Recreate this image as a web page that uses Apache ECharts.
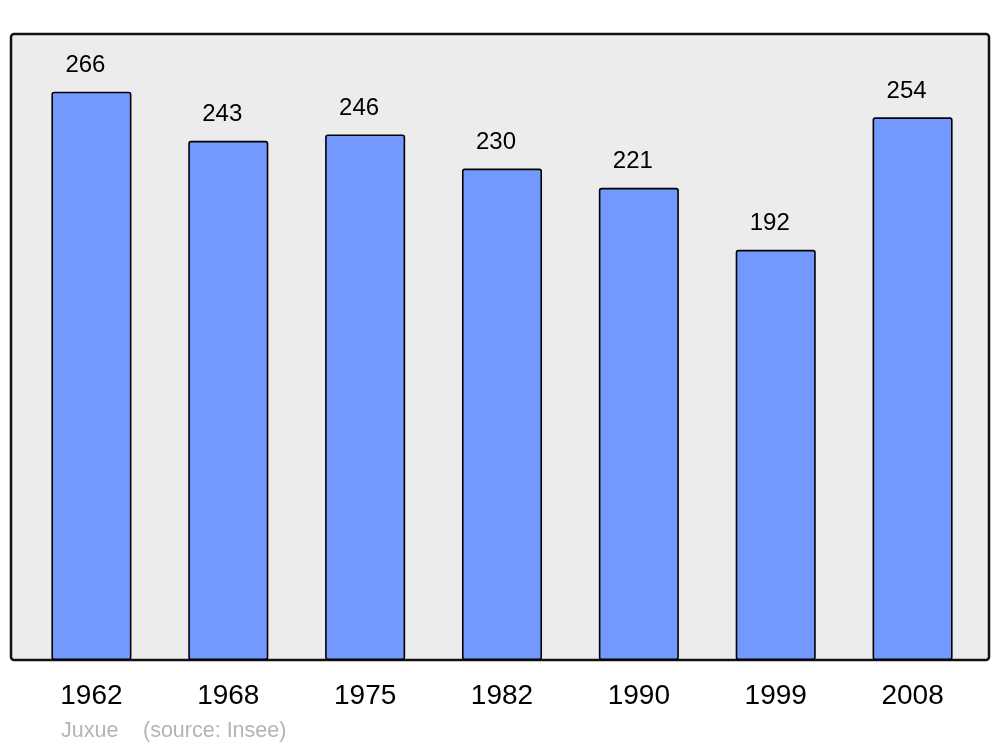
<!DOCTYPE html>
<html>
<head>
<meta charset="utf-8">
<script src="https://cdn.jsdelivr.net/npm/echarts@6/dist/echarts.min.js"></script>
<style>
  html, body { margin: 0; padding: 0; background: #fff; }
  #chart { width: 1000px; height: 747px; }
</style>
</head>
<body>
<div id="chart"></div>
<script>
// années du recensement et population
const years = ["1962", "1968", "1975", "1982", "1990", "1999", "2008"];
const population = [266, 243, 246, 230, 221, 192, 254];
const footer = ["Juxue", "(source: Insee)"];

const chart = echarts.init(document.getElementById("chart"));

const option = {
  animation: false,
  textStyle: { fontFamily: "Liberation Sans, Arial, sans-serif" },
  graphic: [
    {
      type: "rect",
      z: -10,
      shape: { x: 11, y: 34, width: 978, height: 626, r: 3 },
      style: { fill: "#ececec", stroke: "#111", lineWidth: 2.5 },
    },
    {
      type: "text",
      left: 61,
      top: 720,
      style: { text: footer[0], fill: "#b4b4b4", font: "21.5px Liberation Sans, Arial, sans-serif" },
    },
    {
      type: "text",
      left: 143,
      top: 720,
      style: { text: footer[1], fill: "#b4b4b4", font: "21.5px Liberation Sans, Arial, sans-serif" },
    },
  ],
  grid: { left: 23, right: 19, top: 34, bottom: 87 },
  xAxis: {
    type: "category",
    data: years,
    axisLine: { show: false },
    axisTick: { show: false },
    axisLabel: { color: "#000", fontSize: 28, margin: 22 },
  },
  yAxis: {
    type: "value",
    min: 0,
    max: 293,
    show: false,
    splitLine: { show: false },
  },
  series: [
    {
      type: "bar",
      data: population,
      barWidth: "58.5%",
      itemStyle: {
        color: "#7399ff",
        borderColor: "#000",
        borderWidth: 1.6,
        borderRadius: 2,
      },
      label: {
        show: true,
        position: "top",
        distance: 14,
        offset: [-6, 0],
        color: "#000",
        fontSize: 24,
      },
    },
  ],
};

chart.setOption(option);
</script>
</body>
</html>
